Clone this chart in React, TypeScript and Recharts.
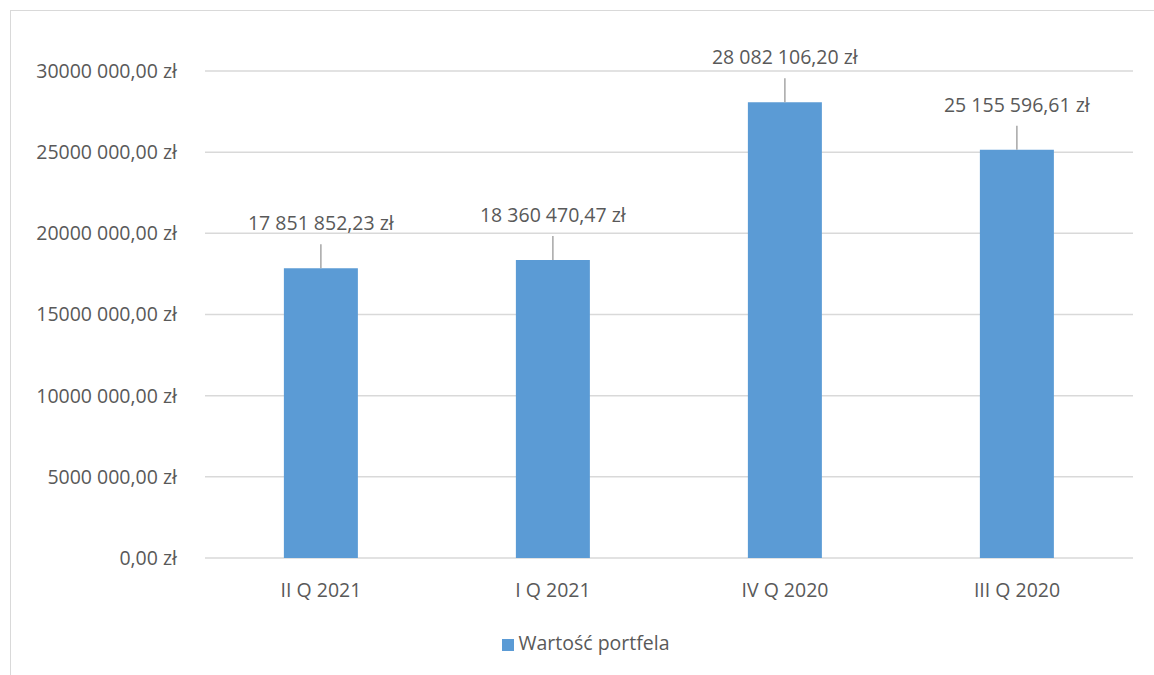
import { BarChart, Bar, XAxis, YAxis, CartesianGrid, Legend, LabelList } from "recharts";

const categories = ["II Q 2021", "I Q 2021", "IV Q 2020", "III Q 2020"];
const portfolioValues = [17851852.23, 18360470.47, 28082106.2, 25155596.61];
const yTicks = [0, 5000000, 10000000, 15000000, 20000000, 25000000, 30000000];
const yTickLabels = [
  "0,00 zł",
  "5000 000,00 zł",
  "10000 000,00 zł",
  "15000 000,00 zł",
  "20000 000,00 zł",
  "25000 000,00 zł",
  "30000 000,00 zł",
];
const seriesName = "Wartość portfela";

const data = categories.map((c, i) => ({ name: c, value: portfolioValues[i] }));

const FONT = "'Open Sans', sans-serif";
const TEXT = "#595959";
const FS = 19.5;

// 17851852.23 -> "17 851 852,23 zł"
const formatPln = (v: number) => {
  const [intPart, dec] = v.toFixed(2).split(".");
  const grouped = intPart.replace(/\B(?=(\d{3})+(?!\d))/g, " ");
  return `${grouped},${dec} zł`;
};

const BarLabel = (props: any) => {
  const { x, y, width, value } = props;
  const cx = x + width / 2;
  return (
    <g>
      <line x1={cx} y1={y} x2={cx} y2={y - 24} stroke="#a6a6a6" strokeWidth={1.5} />
      <text x={cx} y={y - 38} textAnchor="middle" fill={TEXT} fontSize={FS} fontFamily={FONT}>
        {formatPln(value)}
      </text>
    </g>
  );
};

export default function App() {
  return (
    <div
      style={{
        position: "absolute",
        left: 0,
        top: 0,
        width: 1154,
        height: 675,
        background: "#fff",
        overflow: "hidden",
      }}
    >
      <div
        style={{
          position: "absolute",
          left: 10,
          top: 10,
          width: 1200,
          height: 700,
          borderLeft: "1.5px solid #d9d9d9",
          borderTop: "1.5px solid #d9d9d9",
        }}
      />
      <BarChart
        width={1154}
        height={675}
        data={data}
        margin={{ top: 71, right: 21, left: 15, bottom: 60 }}
        barCategoryGap="34%"
        style={{ position: "absolute", left: 0, top: 0 }}
      >
        <CartesianGrid vertical={false} stroke="#d9d9d9" strokeWidth={1.5} />
        <XAxis
          dataKey="name"
          axisLine={false}
          tickLine={false}
          tickSize={0}
          tickMargin={25}
          height={30}
          tick={{ fill: TEXT, fontSize: FS, fontFamily: FONT }}
        />
        <YAxis
          domain={[0, 30000000]}
          ticks={yTicks}
          interval={0}
          axisLine={false}
          tickLine={false}
          tickSize={0}
          tickMargin={28}
          width={190}
          tickFormatter={(v: number) => yTickLabels[yTicks.indexOf(v)]}
          tick={{ fill: TEXT, fontSize: FS, fontFamily: FONT }}
        />
        <Legend
          verticalAlign="bottom"
          iconType="square"
          iconSize={12}
          wrapperStyle={{ bottom: 19, left: 32, fontFamily: FONT, fontSize: FS }}
          formatter={(v: string) => <span style={{ color: TEXT }}>{v}</span>}
        />
        <Bar dataKey="value" name={seriesName} fill="#5b9bd5" isAnimationActive={false}>
          <LabelList dataKey="value" content={BarLabel} />
        </Bar>
      </BarChart>
    </div>
  );
}
